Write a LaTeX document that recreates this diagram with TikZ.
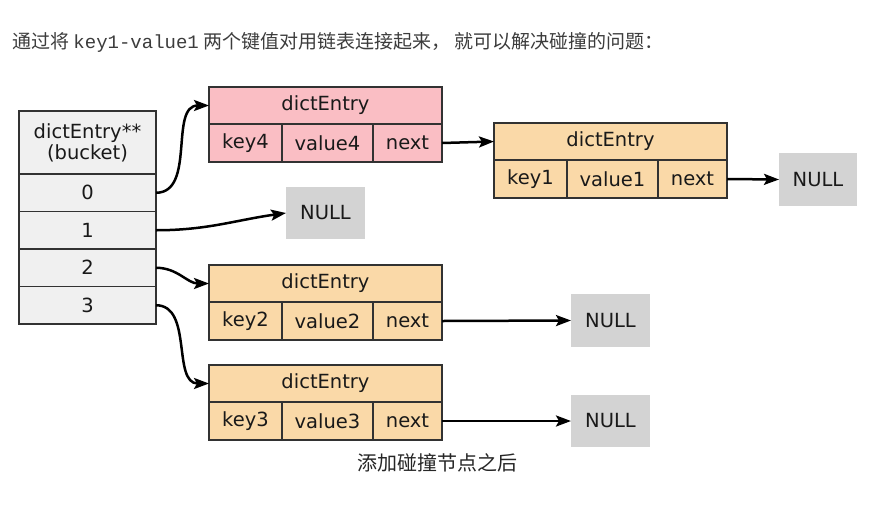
\documentclass[tikz,border=0pt]{standalone}
\usepackage{fontspec}
\setmainfont{DejaVu Sans}
\newfontfamily\cjk{Noto Sans CJK SC}
\newfontfamily\monof{Liberation Mono}
\usetikzlibrary{arrows.meta}
\definecolor{pinkfill}{RGB}{250,190,196}
\definecolor{orangefill}{RGB}{250,217,168}
\definecolor{bucketfill}{RGB}{240,240,240}
\definecolor{nullfill}{RGB}{211,211,211}
\definecolor{edgec}{RGB}{50,50,50}
\definecolor{txt}{RGB}{60,60,60}
\tikzset{
  cell/.style={draw=edgec, line width=1.4pt, inner sep=0pt, outer sep=0pt, anchor=north west,
    font=\fontsize{19.5}{22}\selectfont, text=black!90},
  nullbox/.style={fill=nullfill, inner sep=0pt, outer sep=0pt, anchor=north west,
    font=\fontsize{19.5}{22}\selectfont, text=black!90},
  link/.style={-{Stealth[length=15pt,width=11pt,inset=3pt]}, line width=2.5pt}
}
\newcommand\dentry[6]{%
  \node[cell, fill=#4, minimum width=233pt, minimum height=37pt] (#1h) at (#2,#3) {dictEntry};
  \node[cell, fill=#4, minimum width=73pt, minimum height=38pt] (#1k) at (#1h.south west) {#5};
  \node[cell, fill=#4, minimum width=91pt, minimum height=38pt] (#1v) at (#1k.north east) {#6};
  \node[cell, fill=#4, minimum width=69pt, minimum height=38pt] (#1n) at (#1v.north east) {next};
}
\begin{document}
\begin{tikzpicture}[x=1pt,y=-1pt]
\useasboundingbox[fill=white] (0,0) rectangle (891,507);
% top sentence
\node[anchor=west, inner sep=0pt, text=txt, font=\cjk\fontsize{19}{23}\selectfont] (intro) at (12,42)
  {通过将 {\monof key1-value1} 两个键值对用链表连接起来， 就可以解决碰撞的问题：};
% bucket array
\node[cell, fill=bucketfill, minimum width=137pt, minimum height=63pt, align=center] (bh) at (19,111) {dictEntry**\\[-1pt](bucket)};
\node[cell, fill=bucketfill, minimum width=137pt, minimum height=37.5pt] (b0) at (bh.south west) {0};
\node[cell, fill=bucketfill, minimum width=137pt, minimum height=37.5pt] (b1) at (b0.south west) {1};
\node[cell, fill=bucketfill, minimum width=137pt, minimum height=37.5pt] (b2) at (b1.south west) {2};
\node[cell, fill=bucketfill, minimum width=137pt, minimum height=37.5pt] (b3) at (b2.south west) {3};
% entries
\dentry{e4}{209}{87}{pinkfill}{key4}{value4}
\dentry{e1}{494}{123}{orangefill}{key1}{value1}
\dentry{e2}{209}{265}{orangefill}{key2}{value2}
\dentry{e3}{209}{365}{orangefill}{key3}{value3}
% NULL boxes
\node[nullbox, minimum width=78pt, minimum height=53pt] (n0) at (779,153) {NULL};
\node[nullbox, minimum width=79pt, minimum height=52pt] (n1) at (286,187) {NULL};
\node[nullbox, minimum width=79pt, minimum height=53pt] (n2) at (571,294) {NULL};
\node[nullbox, minimum width=79pt, minimum height=52pt] (n3) at (571,395) {NULL};
% links
\draw[link] (b0.east) to[out=0,in=180] (e4h.west);
\draw[link] (b1.east) to[out=0,in=188] (n1.west);
\draw[link] (b2.east) to[out=0,in=180] (e2h.west);
\draw[link] (b3.east) to[out=0,in=180] (e3h.west);
\draw[link] (e4n.east) -- (e1h.west);
\draw[link] (e1n.east) -- (n0.west);
\draw[link] (e2n.east) -- (n2.west);
\draw[link] (e3n.east) -- (n3.west);
% caption
\node[text=black!85, font=\cjk\fontsize{20}{24}\selectfont] (cap) at (437,463) {添加碰撞节点之后};
\end{tikzpicture}
\end{document}
